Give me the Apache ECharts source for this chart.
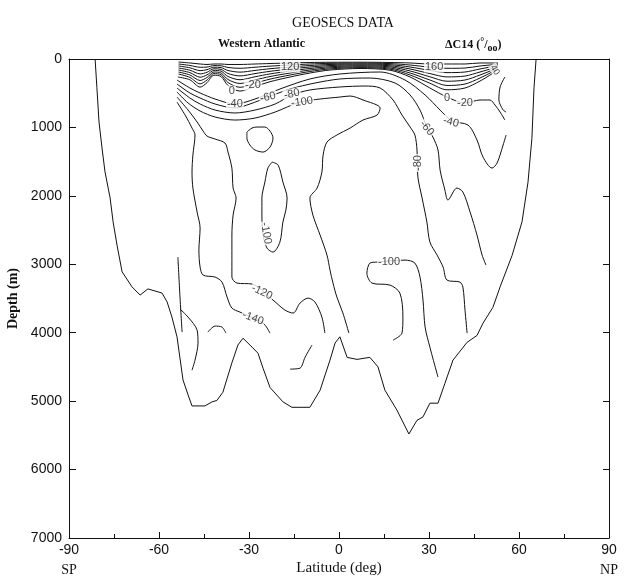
<!DOCTYPE html>
<html><head><meta charset="utf-8">
<script src="https://cdn.jsdelivr.net/npm/echarts@6/dist/echarts.min.js"></script>
<style>html,body{margin:0;padding:0;background:#fff}#c{width:624px;height:577px}</style>
</head><body><div id="c"></div>
<script>
// ---- data (latitude in deg, depth in m) ----
const latRange = [-90, 90];
const depthRange = [0, 7000];
const latTickStep = 30;
const depthTickStep = 1000;

// outermost contour (data limit / bottom)
const contourOuter = [[-81.3,0],[-80.7,420],[-80,920],[-79,1300],[-78,1650],[-76.3,2030],[-75.3,2380],[-74,2720],[-72.3,3110],[-69,3330],[-66.3,3450],[-63.7,3360],[-59,3420],[-57.3,3550],[-55.7,3770],[-54,4060],[-52,4690],[-50.3,4910],[-49,5070],[-44.7,5070],[-42.3,5010],[-40.7,4990],[-38.7,4870],[-35.7,4440],[-33.7,4180],[-32,4080],[-29,4210],[-27,4300],[-25.3,4520],[-23,4800],[-18.7,5010],[-15.7,5090],[-9.7,5090],[-6.3,4840],[-3,4400],[-1.3,4150],[0.3,4060],[2.7,4360],[6,4390],[10.3,4360],[13,4500],[15.3,4840],[19.3,5130],[23.3,5480],[26,5280],[28,5230],[30.3,5030],[33,5030],[35.3,4740],[38,4400],[42.7,4140],[46,4040],[48,3860],[51.3,3630],[53.7,3330],[57.7,2870],[61,2380],[63,1800],[64.3,1160],[65,420],[65.7,0]];

// surface fan: shared latitudes, depths per contour
const fanLat = [-53.5,-49.7,-46.3,-44,-41.7,-39.3,-37,-33,-28,-23,-16.3,-9.7,-3,7,17,23.7,30.3,36,42,47,51,53];
const fan160 = [44,58,73,80,73,73,80,80,73,66,58,51,48,47,51,58,73,73,73,58,58,58];
const fan140 = [73,94,121,118,96,99,124,136,120,104,88,73,64,60,67,88,120,136,132,102,85,73];
const fan120 = [102,129,170,156,120,126,168,192,167,142,117,95,80,73,83,117,167,199,190,146,111,88];
const fan100 = [132,164,218,194,143,152,212,247,213,180,146,117,96,86,99,146,213,262,249,190,137,102];
const fan80  = [161,199,266,232,167,178,256,303,260,218,175,139,113,99,115,175,260,325,307,234,164,117];
const fan40  = [190,234,314,270,190,205,300,358,307,256,205,161,129,113,132,205,307,387,366,278,190,132];
const fan0   = [219,269,363,308,213,231,344,414,354,294,234,183,145,126,148,234,354,450,424,322,216,146];

const contourM20 = [[-53.7,263],[-49.7,304],[-46.3,411],[-44,346],[-41.7,237],[-39.3,257],[-37,387],[-33,469],[-28,401],[-23,332],[-16.3,263],[-9.7,205],[-3,161],[7,139],[17,164],[23.7,263],[30.3,424],[36,556],[42,643],[47,599],[50.3,599],[52,673],[53.7,775],[55.3,892]];
const contourM40 = [[-54,307],[-49.7,424],[-46.3,497],[-41.3,585],[-34.7,658],[-28,585],[-19.7,439],[-9.7,292],[0.3,219],[13.7,190],[22,307],[28.7,526],[33.7,746],[37.7,906],[43,965],[46,1184],[48,1433],[51,1594],[52.7,1520],[54.7,1257],[55.7,1111]];
const contourM60 = [[-54,366],[-49.7,497],[-46.3,570],[-41.3,658],[-34.7,716],[-29.7,658],[-23.7,556],[-16.3,439],[-8,351],[0.3,292],[10.3,278],[18.7,351],[23.7,526],[27,746],[29.3,994],[31.3,1140],[33,1330],[33.7,1623],[35.3,1915],[36.3,2061],[39.3,1886],[41.3,1944],[43.7,2237],[46,2573],[47.7,2866],[49,3012]];
const contourM80 = [[-54,424],[-49.7,570],[-46.3,658],[-41.3,746],[-34.7,789],[-28,746],[-21.3,658],[-15.7,526],[-9.7,453],[0.3,409],[8.7,395],[13.7,424],[18,599],[21,819],[23.7,994],[25.3,1111],[26,1330],[26.3,1725],[27.7,2032],[29.3,2383],[30.3,2675],[32.7,2866],[34.7,3041],[36,3231],[40.3,3260],[41.3,3333],[42,3670],[42.7,4006]];
const contourM100 = [[-54,482],[-50.3,643],[-46.3,760],[-41.3,848],[-34.7,892],[-28,863],[-21.3,775],[-13,629],[-6.3,585],[0.3,556],[3.7,541],[8,599],[13.7,716],[12.7,819],[8,892],[3.7,1009],[-0.7,1111],[-4,1213],[-5.3,1404],[-5.7,1652],[-7.3,1886],[-9.7,2032],[-8.7,2281],[-6.3,2573],[-4,2866],[-3,3085],[-2,3275],[-0.7,3480],[1.3,3713],[3.3,4006]];
const contourM120 = [[-54,556],[-50.3,746],[-47.3,921],[-45.3,1053],[-44,1126],[-41.3,1170],[-38,1228],[-37,1360],[-35.7,1594],[-35.3,1886],[-34.3,2032],[-35.3,2281],[-35.7,2573],[-35.7,2866],[-35.7,3187],[-34,3275],[-29,3289],[-22,3523],[-18,3670],[-15.3,3713],[-13,3567],[-10.3,3494],[-8,3553],[-5.7,3772],[-4.7,4006]];
const contourM140 = [[-54,629],[-51.3,819],[-49,1009],[-48,1111],[-48.7,1404],[-49,1652],[-48.7,1886],[-47.3,2237],[-46.3,2471],[-46.7,2792],[-46.3,3041],[-45.3,3158],[-41.3,3187],[-39,3260],[-37.3,3480],[-35.7,3640],[-33,3699],[-25.3,3860],[-23,4006]];

const loopSmall  = [[-30.7,1067],[-29,1009],[-27.3,994],[-24.7,994],[-23,1053],[-22,1155],[-23,1287],[-25.3,1360],[-28,1330],[-29.7,1257],[-30.7,1155],[-30.7,1067]];
const loopM100   = [[-22.3,1506],[-20.3,1550],[-18.7,1798],[-17.3,2032],[-17.7,2208],[-18.7,2383],[-19.7,2675],[-22,2822],[-24,2763],[-25.3,2573],[-25.7,2281],[-25.7,2032],[-24.7,1798],[-23.7,1594],[-22.3,1506]];
const deepM100N  = [[18,4108],[21,4006],[21.3,3772],[20.3,3421],[17,3304],[11,3275],[9.3,3129],[10.3,2983],[12.7,2968],[22,2939],[25.3,2983],[27,3187],[28,3523],[28.7,3918],[30.3,4211],[33,4649]];
const bracketN   = [[55.3,263],[53.7,409],[53.3,599],[54.7,745],[55.7,775]];
const deepSouthA = [[-53.7,2895],[-53,3480],[-52.3,3991]];
const deepSouthB = [[-53,3655],[-50.3,3772],[-47.3,3962],[-47,4152],[-48,4401],[-49,4547]];
const deepSouthC = [[-43.7,3991],[-41.3,3903],[-39,3918],[-37.7,4006]];
const deepSouthD = [[-9,4181],[-11.3,4357],[-13,4518],[-16.3,4532]];

// contour labels
const labelTexts = ['120','160','0','-20','-40','-60','-80','-100','0','-20','-40','-60','-80','-100','-100','-120','-140','40'];
const labelLat   = [-16.3,31.7,-35.7,-28.7,-34.7,-23.7,-15.7,-12.3,36,42,37.3,29.3,26.3,-24.3,16.7,-25.7,-28.7,52];
const labelDepth = [117,117,468,380,658,556,512,629,570,643,921,1009,1520,2544,2968,3406,3787,161];

// ---- chart ----
const labelAngles = [0,0,0,0,0,12,12,8,0,0,-15,-50,90,-80,0,-25,-20,-60];
const sansNarrow = '"Liberation Sans Narrow", "Arial Narrow", "Liberation Sans", sans-serif';
const serif = '"Liberation Serif", "Times New Roman", serif';
const ink = '#111';

function contour(name, data, smooth) {
  return {type:'line', name, data, symbol:'none', showSymbol:false, smooth:smooth,
    silent:true, animation:false, lineStyle:{color:ink, width:1}, z:2};
}
const fanSets = {fan160, fan140, fan120, fan100, fan80, fan40, fan0};
const series = [contour('outer', contourOuter, false)];
Object.keys(fanSets).forEach(k => series.push(contour(k, fanLat.map((la,i)=>[la, fanSets[k][i]]), 0.3)));
[['m20',contourM20],['m40',contourM40],['m60',contourM60],['m80',contourM80],['m100',contourM100],
 ['m120',contourM120],['m140',contourM140],['loopSmall',loopSmall],['loopM100',loopM100],
 ['deepM100N',deepM100N],['bracketN',bracketN],['dsA',deepSouthA],['dsB',deepSouthB],['dsC',deepSouthC],['dsD',deepSouthD]]
 .forEach(([n,d]) => series.push(contour(n, d, 0.3)));

series.push({
  type:'scatter', name:'labels', symbolSize:0, silent:true, animation:false, z:5,
  data: labelTexts.map((t,i)=>({value:[labelLat[i], labelDepth[i]], name:t,
    label:{rotate:labelAngles[i], fontSize: t==='40'?9:11}})),
  label:{show:true, position:'inside', formatter:p=>p.name, color:ink, fontFamily:sansNarrow,
    fontSize:11, backgroundColor:'#fff', padding:[0,1]}
});

const chart = echarts.init(document.getElementById('c'), null, {renderer:'canvas'});
chart.setOption({
  animation:false,
  backgroundColor:'#fff',
  title:[
    {text:'GEOSECS DATA', left:338, top:11, textAlign:'center',
     textStyle:{fontFamily:serif, fontSize:14, fontWeight:'normal', color:ink}},
    {text:'Western Atlantic', left:213, top:33,
     textStyle:{fontFamily:serif, fontSize:12, fontWeight:'bold', color:ink}},
    {text:'ΔC14 ({sup|°}/{sub|oo})', left:440, top:32,
     textStyle:{fontFamily:serif, fontSize:12, fontWeight:'bold', color:ink, lineHeight:16,
       rich:{sup:{fontFamily:serif, fontSize:10, fontWeight:'bold', color:ink, verticalAlign:'top', lineHeight:16},
             sub:{fontFamily:serif, fontSize:10, fontWeight:'bold', color:ink, verticalAlign:'bottom', lineHeight:12, padding:[6,0,0,0]}}}}
  ],
  grid:{left:69, right:15, top:59, bottom:39, containLabel:false, outerBoundsMode:'none'},
  xAxis:[
    {type:'value', position:'bottom', min:latRange[0], max:latRange[1], interval:latTickStep,
     axisLine:{show:true, onZero:false, lineStyle:{color:ink, width:1}},
     axisTick:{show:true, inside:true, length:6, lineStyle:{color:ink}},
     minorTick:{show:true, splitNumber:2, length:4, lineStyle:{color:ink}},
     splitLine:{show:false}, minorSplitLine:{show:false},
     axisLabel:{margin:5, color:ink, fontFamily:sansNarrow, fontSize:14,
       formatter:v => v===latRange[0] ? '{v|'+v+'}\n{s|SP}' : (v===latRange[1] ? '{v|'+v+'}\n{s|NP}' : '{v|'+v+'}'),
       rich:{v:{fontFamily:sansNarrow, fontSize:14, color:ink, lineHeight:14},
             s:{fontFamily:serif, fontSize:14, color:ink, lineHeight:26}}},
     name:'Latitude (deg)', nameLocation:'middle', nameGap:23, nameMoveOverlap:false,
     nameTextStyle:{fontFamily:serif, fontSize:15, color:ink}},
    {type:'value', position:'top', min:latRange[0], max:latRange[1], interval:latTickStep,
     axisLine:{show:true, onZero:false, lineStyle:{color:ink, width:1}}, axisTick:{show:false},
     axisLabel:{show:false}, splitLine:{show:false}}
  ],
  yAxis:[
    {type:'value', inverse:true, position:'left', min:depthRange[0], max:depthRange[1], interval:depthTickStep,
     axisLine:{show:true, onZero:false, lineStyle:{color:ink, width:1}},
     axisTick:{show:true, inside:true, length:7, lineStyle:{color:ink}},
     splitLine:{show:false},
     axisLabel:{margin:7, color:ink, fontFamily:sansNarrow, fontSize:14, formatter:v => String(v)},
     name:'Depth (m)', nameLocation:'middle', nameGap:49, nameRotate:90, nameMoveOverlap:false,
     nameTextStyle:{fontFamily:serif, fontSize:14, fontWeight:'bold', color:ink}},
    {type:'value', inverse:true, position:'right', min:depthRange[0], max:depthRange[1], interval:depthTickStep,
     axisLine:{show:true, onZero:false, lineStyle:{color:ink, width:1}},
     axisTick:{show:true, inside:true, length:6, lineStyle:{color:ink}},
     axisLabel:{show:false}, splitLine:{show:false}}
  ],
  series: series
});
</script>
</body></html>
